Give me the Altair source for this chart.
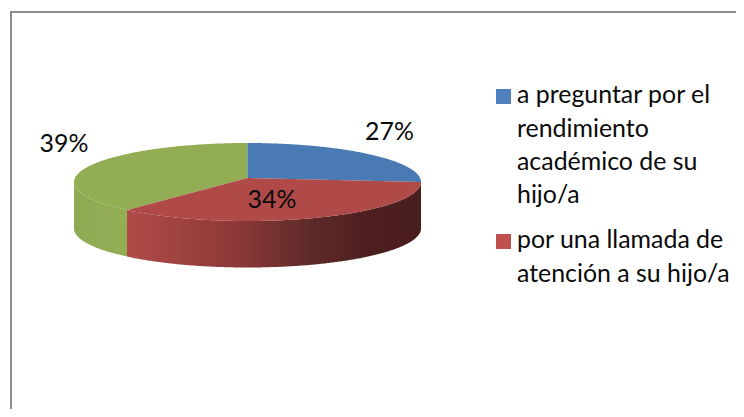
import altair as alt
import numpy as np
import pandas as pd

# --- chart values
categories = ["a preguntar por el rendimiento académico de su hijo/a",
              "por una llamada de atención a su hijo/a",
              "otro"]
shares = [27, 34, 39]
label_text = ["27%", "34%", "39%"]
legend_lines = [["a preguntar por el", "rendimiento", "académico de su", "hijo/a"],
                ["por una llamada de", "atención a su hijo/a"]]

# --- styling / frame of the drawing (page pixels)
W, H = 736, 409
FONT = "Lato"
FS = 24.9
TEXT = "#0A0A0A"
cx, cy, a, b = 247.5, 182.0, 173.5, 39.0
apex_y, depth = 178.0, 46.5
perspective_shift = [-7.2, 4.4]  # degrees: projected slice edges vs. flat angles

x_scale = alt.Scale(domain=[8, W], range=[0, W - 8], nice=False, zero=False, clamp=False)
y_scale = alt.Scale(domain=[8, H], range=[0, H - 8], nice=False, zero=False, clamp=False)
X = lambda f="x": alt.X(f"{f}:Q", scale=x_scale, axis=None)
Y = lambda f="y": alt.Y(f"{f}:Q", scale=y_scale, axis=None)

# slice edges from the shares
cum = np.cumsum(shares) / sum(shares) * 360
th1, th2 = np.radians(cum[0] + perspective_shift[0]), np.radians(cum[1] + perspective_shift[1])
ex1, ey1 = cx + a * np.sin(th1), cy - b * np.cos(th1)
ex2, ey2 = cx + a * np.sin(th2), cy - b * np.cos(th2)

def upper(x):
    return cy - b * np.sqrt(np.clip(1 - ((x - cx) / a) ** 2, 0, 1))

def lower(x):
    return cy + b * np.sqrt(np.clip(1 - ((x - cx) / a) ** 2, 0, 1))

def edge1(x):
    return apex_y + (ey1 - apex_y) * (x - cx) / (ex1 - cx)

def edge2(x):
    return apex_y + (ey2 - apex_y) * (x - cx) / (ex2 - cx)

grid = cx + a * np.sin(np.radians(np.arange(-90, 90.01, 0.5)))
xs = np.unique(np.concatenate([grid, [ex1, ex2, cx]]))

def segment(x0, x1):
    return xs[(xs >= x0 - 1e-9) & (xs <= x1 + 1e-9)]

xb = segment(cx, ex1)
blue = pd.DataFrame({"x": xb, "y": upper(xb), "y2": edge1(xb)})
xr = segment(ex2, ex1)
red = pd.DataFrame({"x": xr, "y": np.where(xr >= cx, edge1(xr), edge2(xr)), "y2": lower(xr)})
xg = segment(cx - a, cx)
green = pd.DataFrame({"x": xg, "y": upper(xg), "y2": np.where(xg < ex2, lower(xg), edge2(xg))})

xsg = segment(cx - a, ex2)
side_green = pd.DataFrame({"x": xsg, "y": lower(xsg), "y2": lower(xsg) + depth})
xsr = segment(ex2, cx + a)
side_red = pd.DataFrame({"x": xsr, "y": lower(xsr), "y2": lower(xsr) + depth})

def area(df, fill):
    return alt.Chart(df).mark_area(fill=fill, stroke=None, interpolate="linear").encode(
        x=X(), y=Y(), y2="y2:Q")

grad_red = alt.Gradient(gradient="linear", x1=0, x2=1, y1=0, y2=0, stops=[
    alt.GradientStop(color="#B04B49", offset=0),
    alt.GradientStop(color="#8B3836", offset=0.38),
    alt.GradientStop(color="#5E2A29", offset=0.62),
    alt.GradientStop(color="#4C1F1E", offset=0.82),
    alt.GradientStop(color="#4A1E1D", offset=1)])
grad_green = alt.Gradient(gradient="linear", x1=0, x2=1, y1=0, y2=0, stops=[
    alt.GradientStop(color="#8EAA52", offset=0),
    alt.GradientStop(color="#93AE55", offset=1)])

# frame
frame = pd.DataFrame({"x": [11, 11, W], "y": [H, 12, 12]})
frame_mark = alt.Chart(frame).mark_line(color="#8C8C8C", strokeWidth=2, interpolate="linear").encode(
    x=X(), y=Y(), order=alt.Order("o:Q")).transform_window(o="row_number()")

# percent labels
labels = pd.DataFrame({"t": label_text, "x": [389.5, 272, 64], "y": [139.5, 207.5, 151.5]})
label_mark = alt.Chart(labels).mark_text(font=FONT, fontSize=FS, color=TEXT, align="center",
                                         baseline="alphabetic").encode(x=X(), y=Y(), text="t:N")

# legend
legend_y = [[103, 136.5, 169.5, 202.5], [248, 281.5]]
rows = [(t, 517, y) for ls, ys in zip(legend_lines, legend_y) for t, y in zip(ls, ys)]
leg_text = pd.DataFrame(rows, columns=["t", "x", "y"])
leg_mark = alt.Chart(leg_text).mark_text(font=FONT, fontSize=FS, color=TEXT, align="left",
                                         baseline="alphabetic").encode(x=X(), y=Y(), text="t:N")
leg_sw = pd.DataFrame({"x": [496, 496], "x2": [511, 511], "y": [89, 234], "y2": [104, 249],
                       "c": categories[:2]})
sw_mark = alt.Chart(leg_sw).mark_rect().encode(
    x=X(), x2="x2:Q", y=Y(), y2="y2:Q",
    color=alt.Color("c:N", scale=alt.Scale(domain=categories[:2], range=["#4F81BD", "#C0504D"]), legend=None))

chart = alt.layer(
    frame_mark,
    area(side_green, grad_green),
    area(side_red, grad_red),
    area(green, "#93AD55"),
    area(blue, "#4A7AB4"),
    area(red, "#AF4A48"),
    label_mark, sw_mark, leg_mark,
).properties(width=W - 8, height=H - 8, padding=0,
             autosize=alt.AutoSizeParams(type="none"), background="white"
).configure_view(stroke=None)

chart.save("out.html", embed_options={"renderer": "svg", "actions": False})
